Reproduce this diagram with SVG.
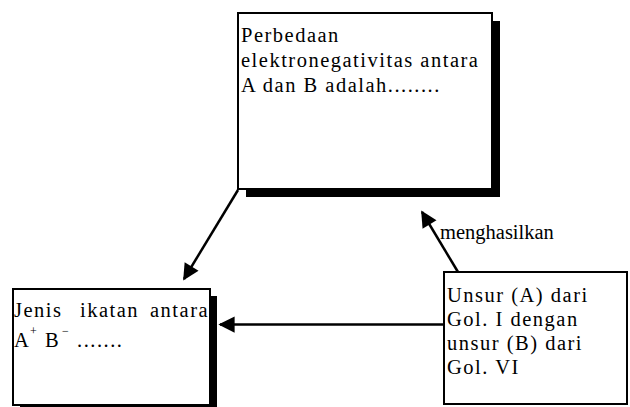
<svg xmlns="http://www.w3.org/2000/svg" width="630" height="407" viewBox="0 0 630 407">
<style>
.box{fill:#fff;stroke:#000;stroke-width:2}
.shadow{fill:#000}
.t{font-family:"Liberation Serif","Times New Roman",serif;font-size:20.5px;fill:#000;letter-spacing:1.5px}
.lbl{font-family:"Liberation Serif","Times New Roman",serif;font-size:20.5px;fill:#000}
.sup{font-family:"Liberation Serif","Times New Roman",serif;font-size:12px;fill:#000}
.c{stroke:#000;stroke-width:2.5;fill:none;marker-end:url(#ah)}
</style>
<defs>
<marker id="ah" viewBox="0 0 10 10" refX="9" refY="5" markerWidth="8" markerHeight="6.5" markerUnits="strokeWidth" orient="auto">
<path d="M0,0 L10,5 L0,10 z" fill="#000"/>
</marker>
</defs>
<rect width="630" height="407" fill="#fff"/>
<g id="connectors">
<line class="c" x1="238" y1="190" x2="184" y2="279"/>
<line class="c" x1="458" y1="272" x2="422" y2="212"/>
<line class="c" x1="444" y1="324.5" x2="220" y2="324.5"/>
<text class="lbl" x="440" y="239">menghasilkan</text>
</g>
<g id="node-perbedaan">
<rect class="shadow" x="246" y="21" width="254" height="176"/>
<rect class="box" x="238" y="13" width="254" height="176"/>
<text class="t" x="241" y="42">Perbedaan</text>
<text class="t" x="241" y="67">elektronegativitas antara</text>
<text class="t" x="241" y="92">A dan B adalah........</text>
</g>
<g id="node-jenis">
<rect class="shadow" x="20" y="296" width="197" height="120"/>
<rect class="box" x="13" y="289" width="197" height="116"/>
<text class="t" x="14" y="317">Jenis</text>
<text class="t" x="80" y="317">ikatan</text>
<text class="t" x="150" y="317">antara</text>
<text class="t" x="14" y="347">A</text>
<text class="sup" x="30" y="335">+</text>
<text class="t" x="45" y="347">B</text>
<text class="sup" x="62" y="335">−</text>
<text class="t" x="77" y="347">.......</text>
</g>
<g id="node-unsur">
<rect class="box" x="444" y="272" width="183" height="132"/>
<text class="t" x="447" y="302">Unsur (A) dari</text>
<text class="t" x="447" y="326">Gol. I dengan</text>
<text class="t" x="447" y="350">unsur (B) dari</text>
<text class="t" x="447" y="374">Gol. VI</text>
</g>
</svg>
